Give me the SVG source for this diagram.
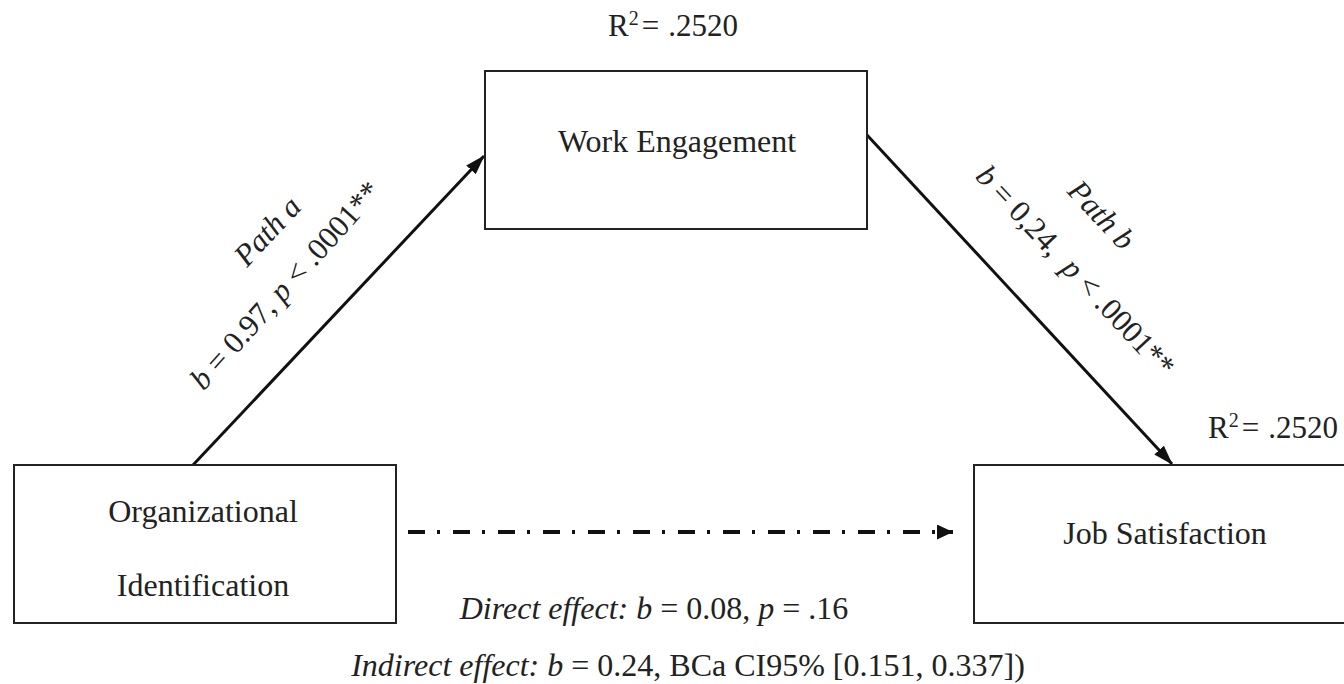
<svg xmlns="http://www.w3.org/2000/svg" width="1344" height="684" viewBox="0 0 1344 684">
  <style>
    .box { fill: #ffffff; stroke: #222222; stroke-width: 2; }
    .t { font-family: "Liberation Serif", "Times New Roman", serif; font-size: 31px; fill: #222222; }
    .n { font-size: 32px; }
    .c { text-anchor: middle; }
    .i { font-style: italic; }
    .edge { stroke: #111111; stroke-width: 3; fill: none; }
    .dash { stroke: #111111; stroke-width: 4; fill: none; stroke-dasharray: 17 12 3 13; }
  </style>
  <defs>
    <marker id="arr" viewBox="0 0 20 13" refX="19" refY="6.5" markerWidth="20" markerHeight="13" markerUnits="userSpaceOnUse" orient="auto">
      <path d="M0,0 L20,6.5 L0,13 Z" fill="#111111"/>
    </marker>
    <marker id="arrd" viewBox="0 0 16 15" refX="16" refY="7.5" markerWidth="16" markerHeight="15" markerUnits="userSpaceOnUse" orient="auto">
      <path d="M0,0 L16,7.5 L0,15 Z" fill="#111111"/>
    </marker>
  </defs>
  <rect width="1344" height="684" fill="#ffffff"/>

  <g id="connectors">
    <line class="edge" x1="193" y1="465" x2="484" y2="156" marker-end="url(#arr)"/>
    <line class="edge" x1="867" y1="135" x2="1172" y2="464" marker-end="url(#arr)"/>
    <line class="dash" x1="408" y1="532" x2="953" y2="532" marker-end="url(#arrd)"/>
  </g>

  <g id="node-work-engagement">
    <rect class="box" x="485" y="71" width="382" height="158"/>
    <text class="t n c" x="677" y="152">Work Engagement</text>
    <text class="t" x="608" y="36">R<tspan font-size="20" dy="-11">2</tspan><tspan dx="3" dy="11">=</tspan><tspan dx="9">.2520</tspan></text>
  </g>

  <g id="node-organizational-identification">
    <rect class="box" x="14" y="465" width="382" height="158"/>
    <text class="t n c" x="203" y="522">Organizational</text>
    <text class="t n c" x="203" y="596">Identification</text>
  </g>

  <g id="node-job-satisfaction">
    <rect class="box" x="974" y="465" width="420" height="158"/>
    <text class="t n c" x="1165" y="544">Job Satisfaction</text>
    <text class="t" x="1208" y="438">R<tspan font-size="20" dy="-11">2</tspan><tspan dx="3" dy="11">=</tspan><tspan dx="9">.2520</tspan></text>
  </g>

  <g id="labels">
    <text class="t c i" transform="translate(275,238) rotate(-47)">Path a</text>
    <text class="t c" transform="translate(293,292) rotate(-48)"><tspan class="i">b</tspan> = 0.97, <tspan class="i">p</tspan> &lt; .0001**</text>
    <text class="t c i" transform="translate(1094,222) rotate(47)">Path b</text>
    <text class="t c" transform="translate(1068,278) rotate(47)" xml:space="preserve"><tspan class="i">b</tspan> = 0,24,  <tspan class="i">p</tspan> &lt; .0001**</text>
    <text class="t n c" x="654" y="619"><tspan class="i">Direct effect: b</tspan> = 0.08, <tspan class="i">p</tspan> = .16</text>
    <text class="t n c" x="688" y="676"><tspan class="i">Indirect effect: b</tspan> = 0.24, BCa CI95% [0.151, 0.337])</text>
  </g>
</svg>
